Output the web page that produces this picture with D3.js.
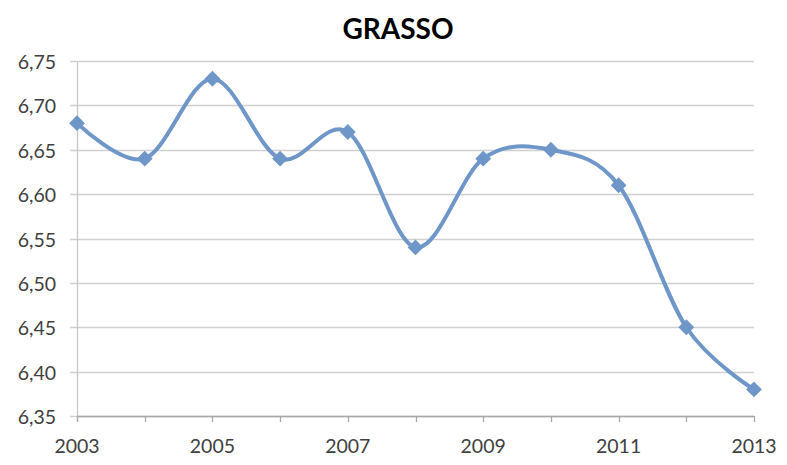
<!DOCTYPE html>
<html><head><meta charset="utf-8">
<script src="https://cdn.jsdelivr.net/npm/d3@7"></script>
<style>body{margin:0;background:#fff}</style>
</head><body>
<svg id="c" width="787" height="465"></svg>
<script>
const years = [2003,2004,2005,2006,2007,2008,2009,2010,2011,2012,2013];
const values = [6.68,6.64,6.73,6.64,6.67,6.54,6.64,6.65,6.61,6.45,6.38];
const yTicks = [6.35,6.40,6.45,6.50,6.55,6.60,6.65,6.70,6.75];
const xTickLabels = [2003,2005,2007,2009,2011,2013];
const title = "GRASSO";

const svg = d3.select("#c");
const m = {left:77, right:33, top:61, bottom:49};
const W = 787, H = 465;
const x = d3.scaleLinear().domain([2003,2013]).range([m.left, W-m.right]);
const y = d3.scaleLinear().domain([6.35,6.75]).range([H-m.bottom, m.top]);
const font = "Lato, 'Open Sans', sans-serif";

svg.append("text").attr("x",398).attr("y",39).attr("text-anchor","middle")
  .attr("font-family",font).attr("font-weight","bold").attr("font-size",28).attr("fill","#000").text(title);

// gridlines
svg.append("g").selectAll("line").data(yTicks).join("line")
  .attr("x1",m.left-7).attr("x2",W-m.right)
  .attr("y1",d=>Math.round(y(d))+0.5).attr("y2",d=>Math.round(y(d))+0.5)
  .attr("stroke","#d0d0d0").attr("stroke-width",1.3);
// y axis line
svg.append("line").attr("x1",m.left+0.5).attr("x2",m.left+0.5).attr("y1",m.top).attr("y2",H-m.bottom+6)
  .attr("stroke","#c8c8c8").attr("stroke-width",1.3);
// x axis
svg.append("line").attr("x1",m.left).attr("x2",W-m.right).attr("y1",Math.round(y(6.35))+0.5).attr("y2",Math.round(y(6.35))+0.5)
  .attr("stroke","#a8a8a8").attr("stroke-width",1.3);
svg.append("g").selectAll("line").data(years).join("line")
  .attr("x1",d=>Math.round(x(d))+0.5).attr("x2",d=>Math.round(x(d))+0.5)
  .attr("y1",y(6.35)).attr("y2",y(6.35)+6).attr("stroke","#a8a8a8").attr("stroke-width",1.3);

// y labels
svg.append("g").selectAll("text").data(yTicks).join("text")
  .attr("x",56).attr("y",d=>y(d)+8).attr("text-anchor","end")
  .attr("font-family",font).attr("font-size",19.5).attr("fill","#404040")
  .text(d=>d3.format(".2f")(d).replace(".",","));
// x labels
svg.append("g").selectAll("text").data(xTickLabels).join("text")
  .attr("x",d=>x(d)).attr("y",H-m.bottom+37).attr("text-anchor","middle")
  .attr("font-family",font).attr("font-size",19.5).attr("fill","#404040").text(d=>d);

const color = "#6f96c9";
const line = d3.line().x((d,i)=>x(years[i])).y(d=>y(d)).curve(d3.curveCardinal.tension(0));
svg.append("path").attr("d",line(values)).attr("fill","none").attr("stroke",color).attr("stroke-width",4);

svg.append("g").selectAll("path").data(values).join("path")
  .attr("transform",(d,i)=>`translate(${x(years[i])},${y(d)}) rotate(45)`)
  .attr("d",d3.symbol().type(d3.symbolSquare).size(125)).attr("fill",color);
</script>
</body></html>
